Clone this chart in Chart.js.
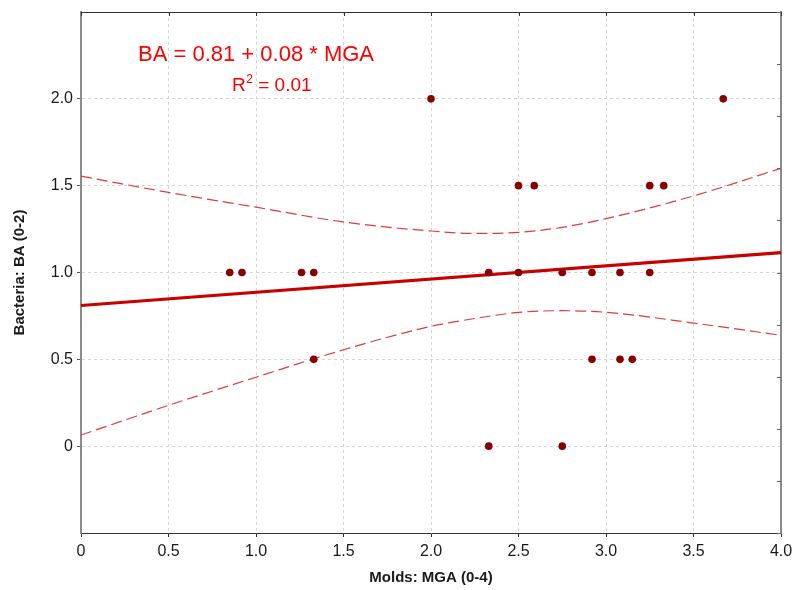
<!DOCTYPE html>
<html>
<head>
<meta charset="utf-8">
<script src="https://cdn.jsdelivr.net/npm/chart.js@4.4.1/dist/chart.umd.min.js"></script>
<style>
  html, body { margin: 0; padding: 0; background: #ffffff; }
  #wrap { width: 794px; height: 590px; position: relative; }
</style>
</head>
<body>
<div id="wrap"><canvas id="c" width="794" height="590"></canvas></div>
<script>
// ---- Data ----
const moldsMGA    = [0.85, 0.92, 1.26, 1.33, 1.33, 2.00, 2.33, 2.33, 2.50, 2.50, 2.59, 2.75, 2.75, 2.92, 2.92, 3.08, 3.08, 3.15, 3.25, 3.25, 3.33, 3.67];
const bacteriaBA  = [1.0,  1.0,  1.0,  1.0,  0.5,  2.0,  1.0,  0.0,  1.5,  1.0,  1.5,  1.0,  0.0,  1.0,  0.5,  1.0,  0.5,  0.5,  1.5,  1.0,  1.5,  2.0];

const fitX        = [0, 4];
const fitY        = [0.81, 1.115];

const bandX       = [0, 0.5, 1.0, 1.5, 2.0, 2.25, 2.5, 2.75, 3.0, 3.5, 4.0];
const bandUpper   = [1.555, 1.461, 1.376, 1.291, 1.239, 1.225, 1.231, 1.26, 1.31, 1.441, 1.60];
const bandLower   = [0.064, 0.235, 0.397, 0.555, 0.690, 0.735, 0.770, 0.780, 0.771, 0.709, 0.638];

const xTickLabels = ['0', '0.5', '1.0', '1.5', '2.0', '2.5', '3.0', '3.5', '4.0'];
const yTickLabels = ['', '0', '0.5', '1.0', '1.5', '2.0', ''];

const equationText = 'BA = 0.81 + 0.08 * MGA';
const r2Text       = ['R', '2', ' = 0.01'];
const xTitle = 'Molds: MGA (0-4)';
const yTitle = 'Bacteria: BA (0-2)';

// ---- Build datasets ----
const pts = moldsMGA.map((v, i) => ({ x: v, y: bacteriaBA[i] }));
const fit = fitX.map((v, i) => ({ x: v, y: fitY[i] }));
const up  = bandX.map((v, i) => ({ x: v, y: bandUpper[i] }));
const lo  = bandX.map((v, i) => ({ x: v, y: bandLower[i] }));

const FONT = '"Liberation Sans", Arial, sans-serif';

const decor = {
  id: 'decor',
  afterDraw(chart) {
    const { ctx, chartArea: a, scales: { x, y, y2 } } = chart;
    ctx.save();
    // top border
    ctx.strokeStyle = '#333333';
    ctx.lineWidth = 1;
    ctx.beginPath();
    ctx.moveTo(a.left, a.top + 0.5);
    ctx.lineTo(a.right, a.top + 0.5);
    ctx.stroke();
    // top inward ticks
    x.ticks.forEach(t => {
      const px = Math.round(x.getPixelForValue(t.value)) + 0.5;
      ctx.beginPath();
      ctx.moveTo(px, a.top);
      ctx.lineTo(px, a.top + 4);
      ctx.stroke();
    });
    // right inward ticks
    ctx.strokeStyle = '#666666';
    y2.ticks.forEach(t => {
      const py = Math.round(y2.getPixelForValue(t.value)) + 0.5;
      ctx.beginPath();
      ctx.moveTo(a.right, py);
      ctx.lineTo(a.right - 4, py);
      ctx.stroke();
    });
    ctx.restore();
  },
  afterDatasetsDraw(chart) {
    const { ctx, scales: { x, y } } = chart;
    ctx.save();
    ctx.fillStyle = '#ff0000';
    ctx.textBaseline = 'alphabetic';
    ctx.textAlign = 'center';
    ctx.font = '22px ' + FONT;
    ctx.fillText(equationText, x.getPixelForValue(1.0), y.getPixelForValue(2.22));
    // R^2 line
    const big = '19px ' + FONT, small = '12px ' + FONT;
    ctx.textAlign = 'left';
    ctx.font = big;  const w1 = ctx.measureText(r2Text[0]).width;
    ctx.font = small; const w2 = ctx.measureText(r2Text[1]).width;
    ctx.font = big;  const w3 = ctx.measureText(r2Text[2]).width;
    const cx = x.getPixelForValue(1.089), by = y.getPixelForValue(2.046);
    let sx = cx - (w1 + w2 + w3) / 2;
    ctx.font = big;   ctx.fillText(r2Text[0], sx, by);
    ctx.font = small; ctx.fillText(r2Text[1], sx + w1 + 0.5, by - 8);
    ctx.font = big;   ctx.fillText(r2Text[2], sx + w1 + w2 + 0.5, by);
    ctx.restore();
  }
};

new Chart(document.getElementById('c'), {
  type: 'scatter',
  data: {
    datasets: [
      { label: 'data', data: pts, order: 0, pointRadius: 3.8, pointHoverRadius: 3.8,
        backgroundColor: '#880000', borderColor: '#880000', borderWidth: 0, showLine: false },
      { label: 'fit', data: fit, order: 1, showLine: true, pointRadius: 0,
        borderColor: '#c80000', borderWidth: 3.2, fill: false },
      { label: 'upper', data: up, order: 2, showLine: true, pointRadius: 0,
        borderColor: '#e03a3a', borderWidth: 1.2, borderDash: [11, 5], cubicInterpolationMode: 'monotone', fill: false },
      { label: 'lower', data: lo, order: 2, showLine: true, pointRadius: 0,
        borderColor: '#e03a3a', borderWidth: 1.2, borderDash: [11, 5], cubicInterpolationMode: 'monotone', fill: false }
    ]
  },
  options: {
    responsive: false,
    animation: false,
    events: [],
    layout: { padding: { top: 12, left: 0, right: 0, bottom: 0 } },
    plugins: { legend: { display: false }, tooltip: { enabled: false }, title: { display: false } },
    scales: {
      x: {
        type: 'linear', position: 'bottom', min: 0, max: 4,
        afterFit: s => { s.height = 57; s.paddingLeft = 0; s.paddingRight = 0; },
        ticks: { stepSize: 0.5, padding: 5, color: '#1a1a1a', font: { family: FONT, size: 16 },
                 callback: (v, i) => xTickLabels[i], maxRotation: 0, autoSkip: false },
        grid: { color: c => (c.tick && (c.tick.value === 0 || c.tick.value === 4)) ? 'rgba(0,0,0,0)' : '#d6d6d6',
                lineWidth: 1, tickLength: 4, tickColor: '#333333', tickBorderDash: [] },
        border: { display: true, color: '#333333', width: 1, dash: [3, 3] },
        title: { display: true, text: xTitle, color: '#1a1a1a', font: { family: FONT, size: 15, weight: 'bold' },
                 padding: { top: 0, bottom: 3 } }
      },
      y: {
        type: 'linear', position: 'left', min: -0.5, max: 2.5,
        afterFit: s => { s.width = 81; s.paddingTop = 0; s.paddingBottom = 0; },
        ticks: { stepSize: 0.5, padding: 4, color: '#1a1a1a', font: { family: FONT, size: 16 },
                 callback: (v, i) => yTickLabels[i], autoSkip: false },
        grid: { color: c => (c.tick && (c.tick.value === -0.5 || c.tick.value === 2.5)) ? 'rgba(0,0,0,0)' : '#d6d6d6',
                lineWidth: 1, tickLength: 4, tickColor: c => (c.tick && (c.tick.value === -0.5 || c.tick.value === 2.5)) ? 'rgba(0,0,0,0)' : '#555555', tickBorderDash: [] },
        border: { display: true, color: '#8a8a8a', width: 2, dash: [3, 3] },
        title: { display: true, text: yTitle, color: '#1a1a1a', font: { family: FONT, size: 15, weight: 'bold' },
                 padding: { top: 11, bottom: 0 } }
      },
      y2: {
        type: 'linear', position: 'right', min: 0, max: 10, reverse: true,
        afterFit: s => { s.width = 13; s.paddingTop = 0; s.paddingBottom = 0; },
        ticks: { display: false, stepSize: 1 },
        grid: { drawOnChartArea: false, drawTicks: false },
        border: { display: true, color: '#8a8a8a', width: 2 }
      }
    }
  },
  plugins: [decor]
});
</script>
</body>
</html>
